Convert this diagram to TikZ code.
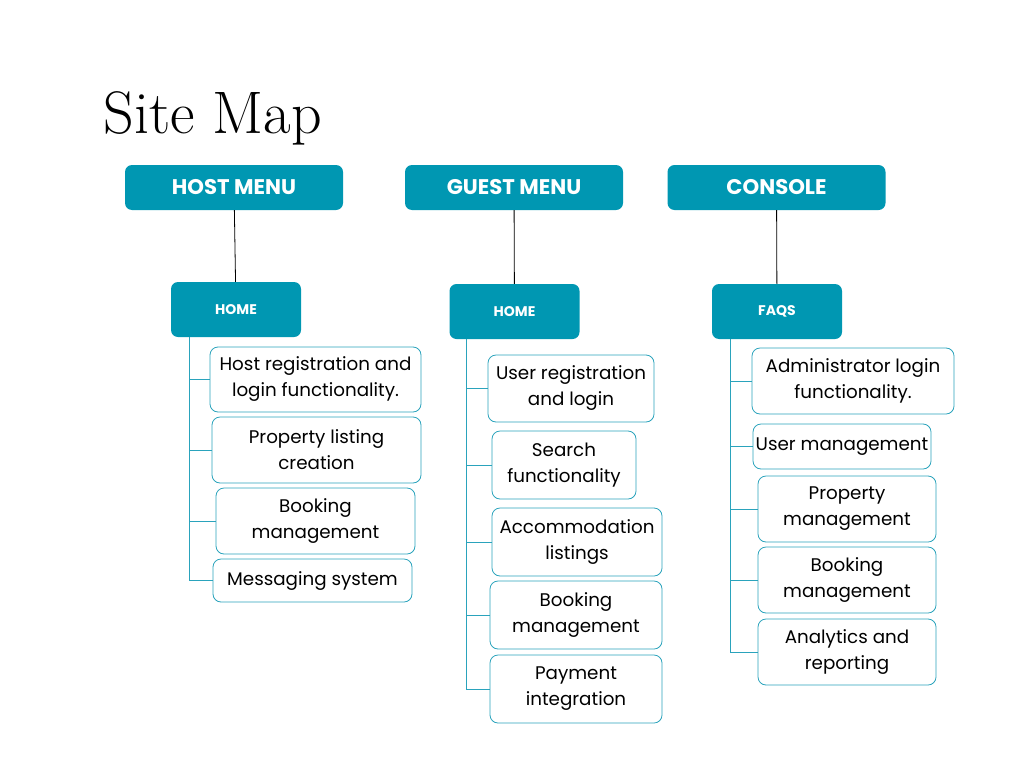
\documentclass[tikz,border=0pt]{standalone}
\usepackage{fontspec}
\setsansfont{Poppins}
\definecolor{menuteal}{HTML}{0097B2}
\definecolor{itemline}{HTML}{2AA3BC}

\begin{document}
\begin{tikzpicture}
    [x=1pt,y=-1pt,
      menu/.style={fill=menuteal,rounded corners=7pt,text=white,font=\sffamily\bfseries\fontsize{21.2}{24}\selectfont,minimum width=218pt,minimum height=45pt},
      page/.style={menu,font=\sffamily\bfseries\fontsize{14}{16}\selectfont,minimum width=130pt,minimum height=55pt},
      item/.style={draw=itemline,line width=0.8pt,rounded corners=8pt,fill=white,align=center,inner sep=0pt,font=\sffamily\fontsize{18.3}{26}\selectfont},
      trunk/.style={black,line width=0.8pt},
      branch/.style={draw=itemline,line width=0.8pt}]
    \useasboundingbox (0,0) rectangle (1024,768);

    \node[anchor=base west,font=\fontsize{60}{64}\selectfont] (title) at (100,133) {Site Map};

    % menus and their first pages
    \node[menu] (hmenu) at (234,187.5) {HOST MENU};
    \node[menu] (gmenu) at (514,187.5) {GUEST MENU};
    \node[menu] (cmenu) at (776.5,187.5) {CONSOLE};
    \node[page] (hhome) at (236,309.5) {HOME};
    \node[page] (ghome) at (514.5,311.5) {HOME};
    \node[page] (cfaqs) at (777,311.5) {FAQS};
    \draw[trunk] (hmenu) -- (hhome);
    \draw[trunk] (gmenu) -- (ghome);
    \draw[trunk] (cmenu) -- (cfaqs);

    % host items
    \foreach \n/\cx/\cy/\w/\h/\t in {1/315.5/379.5/211/65/{Host registration and\\login functionality.},
        2/316.5/450/209/66/{Property listing\\creation},
        3/315.5/521/199/66/{Booking\\management},
        4/312.5/580.5/199/43/{Messaging system}} {
      \node[item,minimum width=\w pt,minimum height=\h pt] (h\n) at (\cx,\cy) {\t};
    }
    % guest items
    \foreach \n/\cx/\cy/\w/\h/\t in {1/571/388.5/166/67/{User registration\\and login},
        2/564/465/144/68/{Search\\functionality},
        3/577/542/170/68/{Accommodation\\listings},
        4/576/615/172/68/{Booking\\management},
        5/576/689/172/68/{Payment\\integration}} {
      \node[item,minimum width=\w pt,minimum height=\h pt] (g\n) at (\cx,\cy) {\t};
    }
    % console items
    \foreach \n/\cx/\cy/\w/\h/\t in {1/853/381/202/66/{Administrator login\\functionality.},
        2/842/446.5/178/45/{User management},
        3/847/509/178/66/{Property\\management},
        4/847/580/178/66/{Booking\\management},
        5/847/652/178/66/{Analytics and\\reporting}} {
      \node[item,minimum width=\w pt,minimum height=\h pt] (c\n) at (\cx,\cy) {\t};
    }

    % tree lines
    \coordinate (hx) at (189,0);
    \coordinate (gx) at (466,0);
    \coordinate (cx) at (730,0);
    \draw[branch] (hhome.south -| hx) |- (h4.west);
    \draw[branch] (ghome.south -| gx) |- (g5.west);
    \draw[branch] (cfaqs.south -| cx) |- (c5.west);
    \foreach \n in {1,2,3}
      \draw[branch] (hx |- h\n.west) -- (h\n.west);
    \foreach \n in {1,...,4} {
      \draw[branch] (gx |- g\n.west) -- (g\n.west);
      \draw[branch] (cx |- c\n.west) -- (c\n.west);
    }

    \end{tikzpicture}
\end{document}
